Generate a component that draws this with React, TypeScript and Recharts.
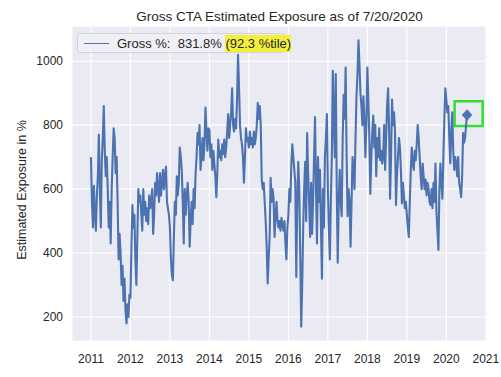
import React from 'react';
import {
  LineChart,
  Line,
  XAxis,
  YAxis,
  CartesianGrid,
  ReferenceArea,
  ReferenceDot,
} from 'recharts';

const POINTS_PER_YEAR = 40;
const YEARS = [2011, 2012, 2013, 2014, 2015, 2016, 2017, 2018, 2019, 2020];

const gross2011 = [700, 560, 480, 610, 520, 470, 580, 640, 770, 600, 480, 690, 760, 860, 720, 640, 700, 600, 480, 560, 430, 600, 700, 790, 760, 650, 700, 560, 380, 460, 400, 300, 360, 250, 320, 220, 180, 240, 200, 270];
const gross2012 = [260, 420, 550, 480, 520, 380, 300, 450, 600, 560, 580, 520, 470, 600, 520, 560, 500, 540, 490, 580, 540, 560, 600, 460, 520, 620, 580, 650, 600, 560, 650, 580, 620, 660, 600, 640, 670, 560, 540, 520];
const gross2013 = [480, 380, 330, 315, 450, 560, 520, 640, 580, 620, 730, 700, 660, 560, 430, 600, 520, 580, 620, 560, 420, 500, 560, 490, 600, 540, 650, 700, 775, 740, 800, 660, 700, 760, 690, 740, 855, 780, 720, 790];
const gross2014 = [785, 700, 740, 660, 720, 680, 640, 575, 650, 755, 700, 720, 690, 740, 710, 755, 700, 730, 780, 835, 760, 800, 840, 915, 800, 780, 820, 790, 880, 1020, 920, 800, 760, 740, 700, 620, 700, 790, 750, 760];
const gross2015 = [730, 780, 740, 760, 730, 780, 740, 760, 800, 870, 820, 860, 800, 630, 600, 620, 560, 500, 420, 305, 380, 450, 635, 560, 600, 570, 450, 520, 560, 500, 480, 500, 470, 510, 490, 470, 500, 430, 380, 480];
const gross2016 = [520, 600, 560, 680, 740, 700, 660, 620, 325, 560, 685, 600, 400, 170, 300, 480, 600, 685, 500, 775, 650, 560, 450, 620, 460, 560, 700, 825, 600, 430, 700, 560, 660, 480, 320, 600, 480, 700, 760, 835];
const gross2017 = [600, 480, 380, 560, 700, 970, 820, 700, 960, 600, 370, 560, 660, 560, 515, 760, 895, 820, 980, 700, 515, 600, 560, 420, 560, 700, 660, 600, 760, 890, 960, 1065, 990, 900, 860, 800, 890, 820, 700, 800];
const gross2018 = [980, 880, 760, 585, 700, 780, 830, 730, 800, 640, 760, 700, 790, 690, 720, 680, 700, 800, 660, 760, 860, 915, 790, 570, 700, 880, 800, 840, 780, 550, 640, 700, 760, 730, 660, 555, 620, 580, 540, 560];
const gross2019 = [520, 480, 450, 560, 660, 730, 680, 660, 720, 690, 740, 800, 760, 700, 640, 600, 680, 640, 600, 630, 580, 620, 600, 560, 550, 600, 540, 620, 560, 680, 530, 470, 410, 600, 680, 620, 570, 700, 820, 915];
const gross2020 = [880, 840, 860, 760, 680, 780, 840, 720, 660, 700, 680, 640, 700, 620, 600, 575, 640, 775, 745, 760, 800, 831.8];

const GROSS_BY_YEAR = [gross2011, gross2012, gross2013, gross2014, gross2015, gross2016, gross2017, gross2018, gross2019, gross2020];

const X_TICKS = [2011, 2012, 2013, 2014, 2015, 2016, 2017, 2018, 2019, 2020, 2021];
const Y_TICKS = [200, 400, 600, 800, 1000];
const X_DOMAIN: [number, number] = [2010.52, 2021.03];
const Y_DOMAIN: [number, number] = [125, 1110];

const TITLE = 'Gross CTA Estimated Exposure as of 7/20/2020';
const Y_LABEL = 'Estimated Exposure in %';
const LEGEND_TEXT = 'Gross %:  831.8% ';
const LEGEND_HIGHLIGHT = '(92.3 %tile)';

// highlight box around latest value (data units)
const BOX_X: [number, number] = [2020.21, 2020.92];
const BOX_Y: [number, number] = [797, 875];

const data = GROSS_BY_YEAR.flatMap((vals, k) =>
  vals.map((v, i) => ({ t: YEARS[k] + i / POINTS_PER_YEAR, v }))
);
const last = data[data.length - 1];

const BLUE = '#4C72B0';
const FONT = '"Liberation Sans", Arial, Helvetica, sans-serif';
const TEXT = '#262626';

const Diamond = (props: any) => {
  const { cx, cy } = props;
  if (cx == null || cy == null) return <g />;
  return (
    <path
      d={`M${cx},${cy - 5.5} L${cx + 5},${cy} L${cx},${cy + 5.5} L${cx - 5},${cy} Z`}
      fill={BLUE}
      stroke={BLUE}
      strokeWidth={0.5}
    />
  );
};

export default function App() {
  return (
    <div
      style={{
        position: 'absolute',
        left: 0,
        top: 0,
        width: 501,
        height: 377,
        background: '#ffffff',
        fontFamily: FONT,
        overflow: 'hidden',
      }}
    >
      <LineChart
        width={501}
        height={377}
        data={data}
        margin={{ top: 26, right: 14, bottom: 6, left: 0 }}
      >
        <CartesianGrid stroke="#ffffff" strokeWidth={1.1} fill="#EAEAF2" fillOpacity={1} />
        <XAxis
          type="number"
          dataKey="t"
          domain={X_DOMAIN}
          ticks={X_TICKS}
          allowDataOverflow
          interval={0}
          tickLine={false}
          axisLine={false}
          tickSize={0}
          tickMargin={13}
          height={30}
          tick={{ fontSize: 12, fill: TEXT, fontFamily: FONT }}
        />
        <YAxis
          type="number"
          domain={Y_DOMAIN}
          ticks={Y_TICKS}
          allowDataOverflow
          interval={0}
          tickLine={false}
          axisLine={false}
          tickSize={0}
          tickMargin={9}
          width={72}
          tick={{ fontSize: 12, fill: TEXT, fontFamily: FONT }}
        />
        <Line
          type="linear"
          dataKey="v"
          stroke={BLUE}
          strokeWidth={2.1}
          strokeLinejoin="round"
          dot={false}
          activeDot={false}
          isAnimationActive={false}
        />
        <ReferenceArea
          x1={BOX_X[0]}
          x2={BOX_X[1]}
          y1={BOX_Y[0]}
          y2={BOX_Y[1]}
          fill="none"
          fillOpacity={0}
          stroke="#33DD33"
          strokeWidth={2.5}
          ifOverflow="visible"
        />
        <ReferenceDot x={last.t} y={last.v} r={5} shape={Diamond} ifOverflow="visible" />
      </LineChart>

      {/* title */}
      <div
        style={{
          position: 'absolute',
          left: 72,
          width: 415,
          top: 10,
          textAlign: 'center',
          fontSize: 13.5,
          lineHeight: '13.5px',
          color: TEXT,
          whiteSpace: 'nowrap',
        }}
      >
        {TITLE}
      </div>

      {/* y-axis label */}
      <div
        style={{
          position: 'absolute',
          left: 22,
          top: 190,
          transform: 'translate(-50%, -50%) rotate(-90deg)',
          fontSize: 12.5,
          lineHeight: '12.5px',
          color: TEXT,
          whiteSpace: 'nowrap',
        }}
      >
        {Y_LABEL}
      </div>

      {/* legend */}
      <div
        style={{
          position: 'absolute',
          left: 77,
          top: 33,
          width: 208,
          height: 20,
          boxSizing: 'border-box',
          border: '1px solid #D2D2D8',
          borderRadius: 3,
          background: 'rgba(240,240,245,0.9)',
        }}
      >
        <div
          style={{
            position: 'absolute',
            left: 6,
            top: 9,
            width: 25,
            height: 0,
            borderTop: `1.7px solid ${BLUE}`,
          }}
        />
        <div
          style={{
            position: 'absolute',
            left: 39,
            top: 1,
            height: 17,
            fontSize: 13,
            lineHeight: '17px',
            color: TEXT,
            whiteSpace: 'pre',
          }}
        >
          {LEGEND_TEXT}
          <span
            style={{
              background: '#F3F03C',
              display: 'inline-block',
              height: 17,
              lineHeight: '17px',
            }}
          >
            {LEGEND_HIGHLIGHT}
          </span>
        </div>
      </div>
    </div>
  );
}
